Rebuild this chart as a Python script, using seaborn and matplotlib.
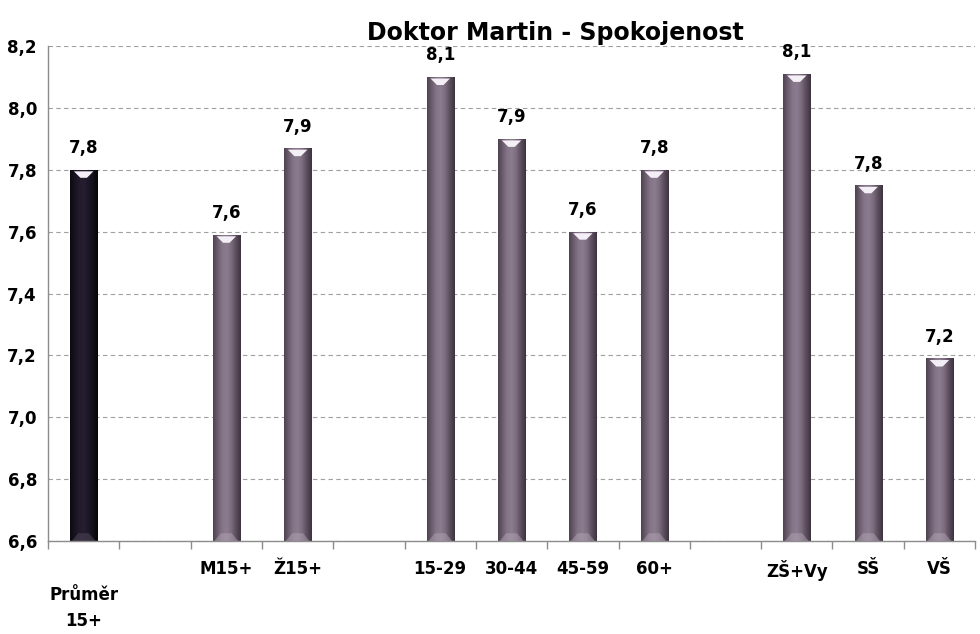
import numpy as np
import pandas as pd
import matplotlib
matplotlib.use("Agg")
import matplotlib.pyplot as plt
import seaborn as sns
from matplotlib.colors import LinearSegmentedColormap
from matplotlib.patches import Polygon
from matplotlib.ticker import FixedLocator, FuncFormatter

categories = ["Průměr\n15+", " ", "M15+", "Ž15+", "  ", "15-29", "30-44", "45-59", "60+",
              "   ", "ZŠ+Vy", "SŠ", "VŠ"]
values = [7.80, np.nan, 7.59, 7.87, np.nan, 8.10, 7.90, 7.60, 7.80, np.nan, 8.11, 7.75, 7.19]
labels = ["7,8", "", "7,6", "7,9", "", "8,1", "7,9", "7,6", "7,8", "", "8,1", "7,8", "7,2"]

df = pd.DataFrame({"cat": categories, "val": values})

sns.set_style("white")
plt.rcParams['font.family'] = ['DejaVu Sans']
plt.rcParams['text.color'] = 'black'
plt.rcParams['xtick.color'] = 'black'
plt.rcParams['ytick.color'] = 'black'

fig = plt.figure(figsize=(9.8, 6.34), dpi=100)
ax = fig.add_axes([0.049, 0.1467, 0.946, 0.7807])

sns.barplot(data=df, x="cat", y="val", order=categories, width=0.38,
            color="#7f6f81", ax=ax)

ax.set_ylim(6.6, 8.2)
ax.set_xlim(-0.5, len(categories) - 0.5)

# cylinder-like shading on the bars
purple = LinearSegmentedColormap.from_list(
    "p", ["#4e4250", "#6d5e6f", "#857588", "#8c7c8f", "#7a6a7c", "#5a4c5c", "#3e3440"])
dark = LinearSegmentedColormap.from_list(
    "d", ["#0c0a10", "#171320", "#221c2e", "#241e30", "#1c1726", "#120f18", "#060508"])
grad = np.linspace(0, 1, 64).reshape(1, -1)
bars = [p for p in ax.patches if p.get_height() == p.get_height() and p.get_height() > 0]
for i, p in enumerate(bars):
    x0, w = p.get_x(), p.get_width()
    y1 = p.get_height()
    cmap = dark if i == 0 else purple
    im = ax.imshow(grad, extent=(x0, x0 + w, 6.6, y1), aspect="auto", cmap=cmap,
                   origin="lower", zorder=p.get_zorder() + 0.1)
    im.set_clip_path(p)
    p.set_edgecolor("none")
    # top highlight bevel
    h = 0.026
    hl = Polygon([(x0 + w * 0.14, y1 - 0.005), (x0 + w * 0.86, y1 - 0.005),
                  (x0 + w * 0.62, y1 - h), (x0 + w * 0.38, y1 - h)],
                 closed=True, facecolor="#f4eef6", edgecolor="none",
                 zorder=p.get_zorder() + 0.2)
    ax.add_patch(hl)
    # bottom lighter bevel
    bl = Polygon([(x0 + w * 0.06, 6.6), (x0 + w * 0.94, 6.6),
                  (x0 + w * 0.7, 6.6 + 0.025), (x0 + w * 0.3, 6.6 + 0.025)],
                 closed=True, facecolor="#b8aaba" if i else "#5a5062", edgecolor="none",
                 alpha=0.45, zorder=p.get_zorder() + 0.2)
    ax.add_patch(bl)

# value labels
for i, (v, lab) in enumerate(zip(values, labels)):
    if lab:
        ax.annotate(lab, (i, v), xytext=(0, 9), textcoords="offset points",
                    ha="center", va="bottom", fontsize=12, fontweight="bold")

ax.set_yticks(np.arange(6.6, 8.21, 0.2))
ax.yaxis.set_major_formatter(FuncFormatter(lambda y, _: f"{y:.1f}".replace(".", ",")))
ax.grid(axis="y", color="#a0a0a0", linestyle=(0, (4, 3)), linewidth=0.8)
ax.set_axisbelow(True)

for s in ["top", "right"]:
    ax.spines[s].set_visible(False)
for s in ["left", "bottom"]:
    ax.spines[s].set_color("#8c8c8c")
    ax.spines[s].set_linewidth(1.0)

ax.xaxis.set_minor_locator(FixedLocator(np.arange(-0.5, len(categories), 1.0)))
ax.tick_params(axis="x", which="major", length=0, pad=14, labelsize=12)
ax.tick_params(axis="x", which="minor", bottom=True, length=6, width=1,
               color="#8c8c8c", direction="out")
ax.tick_params(axis="y", length=0, pad=8, labelsize=12)
ax.set_xticks(range(len(categories)))
ax.set_xticklabels(["\nPrůměr\n15+"] + categories[1:], fontweight="bold")
ax.get_xticklabels()[0].set_linespacing(1.55)
for t in ax.get_yticklabels():
    t.set_fontweight("bold")

ax.set_xlabel("")
ax.set_ylabel("")

fig.text(0.567, 0.948, "Doktor Martin - Spokojenost", ha="center", va="center",
         fontsize=17, fontweight="bold")

fig.savefig("out.png", dpi=100)
